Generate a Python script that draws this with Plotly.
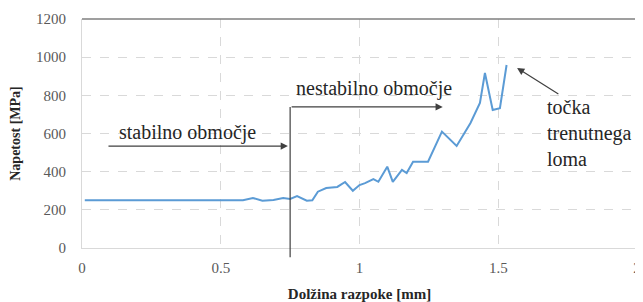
import plotly.graph_objects as go

crack_len = [0.01, 0.1, 0.2, 0.3, 0.4, 0.5, 0.58, 0.616, 0.65, 0.69, 0.725, 0.75, 0.775,
             0.81, 0.83, 0.85, 0.88, 0.92, 0.948, 0.976, 1.0, 1.02, 1.05, 1.068, 1.10,
             1.12, 1.153, 1.17, 1.193, 1.247, 1.297, 1.35, 1.40, 1.434, 1.452, 1.48,
             1.506, 1.53]
stress = [250, 250, 250, 250, 250, 250, 250, 262, 248, 252, 262, 257, 272,
          248, 250, 295, 314, 320, 346, 300, 330, 340, 361, 347, 426,
          347, 409, 393, 452, 452, 610, 535, 655, 760, 917, 723,
          733, 959]

x_ticks = [0, 0.5, 1, 1.5, 2]
x_tick_text = ["0", "0.5", "1", "1.5", "2"]
y_ticks = [0, 200, 400, 600, 800, 1000, 1200]

FONT = "Liberation Serif"

fig = go.Figure()
fig.add_trace(go.Scatter(x=crack_len, y=stress, mode="lines",
                         line=dict(color="#5b9bd5", width=2), showlegend=False))

# page body has an 8px default margin: figure is 635x294 placed at (8, 8)
fig.update_layout(
    width=635, height=294,
    margin=dict(l=74, r=6, t=11, b=54),
    paper_bgcolor="white", plot_bgcolor="white",
    font=dict(family=FONT, color="#595959", size=15),
    xaxis=dict(range=[0, 2], tickvals=x_ticks, ticktext=x_tick_text, automargin=False,
               showgrid=True, gridcolor="#d9d9d9", griddash="dash", gridwidth=1,
               zeroline=False, showline=True, linecolor="#d9d9d9", linewidth=1,
               ticks="", ticklabelstandoff=6,
               tickfont=dict(family=FONT, size=15, color="#595959"),
               title=dict(text="<b>Dolžina razpoke [mm]</b>", standoff=13,
                          font=dict(family=FONT, size=15, color="#262626"))),
    yaxis=dict(range=[0, 1200], tickvals=y_ticks, automargin=False,
               showgrid=True, gridcolor="#d9d9d9", griddash="dash", gridwidth=1,
               zeroline=False, showline=True, linecolor="#d9d9d9", linewidth=1,
               ticks="", ticklabelstandoff=12,
               tickfont=dict(family=FONT, size=15, color="#595959"),
               title=dict(text="<b>Napetost [MPa]</b>", standoff=12,
                          font=dict(family=FONT, size=14, color="#262626"))),
)

# plot-area frame top and right (darker)
fig.add_shape(type="line", xref="paper", yref="paper", x0=0, x1=1, y0=1, y1=1,
              line=dict(color="#7f7f7f", width=1.5))
fig.add_shape(type="line", xref="paper", yref="paper", x0=1, x1=1, y0=0, y1=1,
              line=dict(color="#7f7f7f", width=1.5))

# vertical divider
fig.add_shape(type="line", xref="x", yref="paper", x0=0.75, x1=0.75, y0=-0.04, y1=739/1200,
              line=dict(color="#404040", width=1.2))

arrow_kw = dict(xref="x", yref="y", axref="x", ayref="y", text="", showarrow=True,
                arrowhead=2, arrowsize=1.2, arrowwidth=1.2, arrowcolor="#404040")
# nestabilno arrow
fig.add_annotation(x=1.30, y=739, ax=0.75, ay=739, **arrow_kw)
# stabilno arrow
fig.add_annotation(x=0.742, y=534, ax=0.09, ay=534, **arrow_kw)
# fracture point arrow
fig.add_annotation(x=1.568, y=943, ax=1.722, ay=802, **arrow_kw)

txt_font = dict(family=FONT, size=20, color="#262626")
fig.add_annotation(x=0.765, y=835, xref="x", yref="y", text="nestabilno območje",
                   showarrow=False, xanchor="left", yanchor="middle", font=txt_font)
fig.add_annotation(x=0.125, y=605, xref="x", yref="y", text="stabilno območje",
                   showarrow=False, xanchor="left", yanchor="middle", font=txt_font)
fig.add_annotation(x=1.67, y=605, xref="x", yref="y",
                   text="točka<br>trenutnega<br>loma", align="left",
                   showarrow=False, xanchor="left", yanchor="middle", font=txt_font)

fig.write_html("out.html")
